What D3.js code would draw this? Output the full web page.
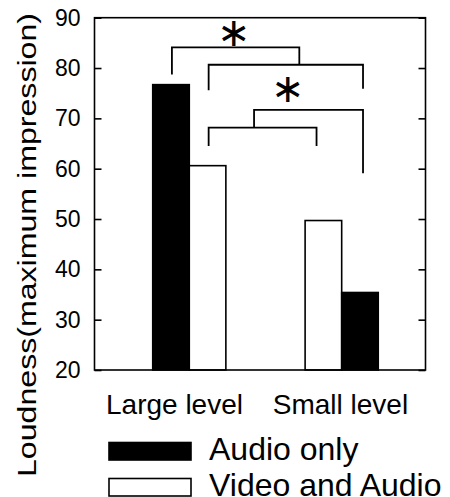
<!DOCTYPE html>
<html>
<head>
<meta charset="utf-8">
<script src="https://cdn.jsdelivr.net/npm/d3@7"></script>
<style>
  html, body { margin: 0; padding: 0; background: #fff; }
  svg { display: block; }
  text { font-family: "Liberation Sans", Arial, Helvetica, sans-serif; fill: #000; }
</style>
</head>
<body>
<svg id="chart" width="450" height="497"></svg>
<script>
// ---- data ----
const categories = ["Large level", "Small level"];
const audioOnly = [76.7, 35.4];
const videoAndAudio = [60.6, 49.7];
const seriesOrder = [["audio", "video"], ["video", "audio"]]; // left/right within each group
const seriesNames = ["Audio only", "Video and Audio"];
const yTicks = [20, 30, 40, 50, 60, 70, 80, 90];
const yLabel = "Loudness(maximum impression)";
// significance brackets: points in (group index, value) units
const brackets = [
  [[-0.114, 78.7], [-0.114, 84.1], [0.722, 84.1], [0.722, 80.65]],
  [[0.127, 75.6], [0.127, 80.65], [1.140, 80.65], [1.140, 75.9]],
  [[0.425, 68.15], [0.425, 71.7], [1.140, 71.7], [1.140, 59.1]],
  [[0.127, 64.5], [0.127, 68.15], [0.835, 68.15], [0.835, 64.5]]
];
const stars = [[0.296, 86.8], [0.65, 75.6]];

// ---- layout ----
const svg = d3.select("#chart");
const L = 94.5, R = 425.5, T = 17.7, B = 370;
const y = d3.scaleLinear().domain([20, 90]).range([B, T]);
const x = d3.scaleLinear().domain([-0.622, 1.55]).range([L, R]);
const barW = 0.24; // in group-index units

const values = { audio: audioOnly, video: videoAndAudio };
const fills = { audio: "#000", video: "#fff" };

const bars = [];
categories.forEach((c, i) => {
  seriesOrder[i].forEach((s, j) => {
    bars.push({ i, s, v: values[s][i], x0: i + (j - 1) * barW, x1: i + j * barW });
  });
});

svg.append("g").selectAll("rect").data(bars).join("rect")
  .attr("x", d => x(d.x0))
  .attr("width", d => x(d.x1) - x(d.x0))
  .attr("y", d => y(d.v))
  .attr("height", d => y(20) - y(d.v))
  .attr("fill", d => fills[d.s])
  .attr("stroke", "#000")
  .attr("stroke-width", 1.6);

// frame
svg.append("rect")
  .attr("x", L).attr("y", T).attr("width", R - L).attr("height", B - T)
  .attr("fill", "none").attr("stroke", "#000").attr("stroke-width", 1.6);

// left axis
const leftAxis = d3.axisLeft(y).tickValues(yTicks).tickSize(-7).tickPadding(14).tickFormat(d3.format("d"));
const gl = svg.append("g").attr("transform", `translate(${L},0)`).call(leftAxis);
gl.select(".domain").remove();
gl.selectAll(".tick line").attr("stroke", "#000").attr("stroke-width", 1.6);
gl.selectAll(".tick text").attr("font-size", 23).attr("font-family", "Liberation Sans, Arial, sans-serif").attr("fill", "#000");

// right axis (ticks only)
const rightAxis = d3.axisRight(y).tickValues(yTicks).tickSize(-7).tickFormat("");
const gr = svg.append("g").attr("transform", `translate(${R},0)`).call(rightAxis);
gr.select(".domain").remove();
gr.selectAll(".tick line").attr("stroke", "#000").attr("stroke-width", 1.6);

// category labels
const catShift = [-0.097, -0.008];
svg.append("g").selectAll("text").data(categories).join("text")
  .attr("x", (d, i) => x(i + catShift[i]))
  .attr("y", 414)
  .attr("text-anchor", "middle")
  .attr("font-size", 28)
  .text(d => d);

// y label
svg.append("text")
  .attr("transform", "translate(35.5,245) rotate(-90)")
  .attr("text-anchor", "middle")
  .attr("font-size", 26)
  .attr("textLength", 464)
  .attr("lengthAdjust", "spacingAndGlyphs")
  .text(yLabel);

// brackets
const line = d3.line().x(d => x(d[0])).y(d => y(d[1]));
svg.append("g").selectAll("path").data(brackets).join("path")
  .attr("d", line)
  .attr("fill", "none")
  .attr("stroke", "#000")
  .attr("stroke-width", 1.8);

// stars
const starFs = 40;
svg.append("g").selectAll("text").data(stars).join("text")
  .attr("x", d => x(d[0]))
  .attr("y", d => y(d[1]) + starFs * 0.3)
  .attr("text-anchor", "middle")
  .attr("font-family", "DejaVu Sans, sans-serif")
  .attr("font-size", starFs)
  .text("\u2217");

// legend
const lg = svg.append("g");
const legFills = ["#000", "#fff"];
const legY = [442.5, 478.5];
seriesNames.forEach((n, k) => {
  lg.append("rect").attr("x", 109).attr("y", legY[k]).attr("width", 82).attr("height", 17.5)
    .attr("fill", legFills[k]).attr("stroke", "#000").attr("stroke-width", 1.6);
  lg.append("text").attr("x", 209).attr("y", legY[k] + 17.5).attr("font-size", 32).text(n);
});
</script>
</body>
</html>
